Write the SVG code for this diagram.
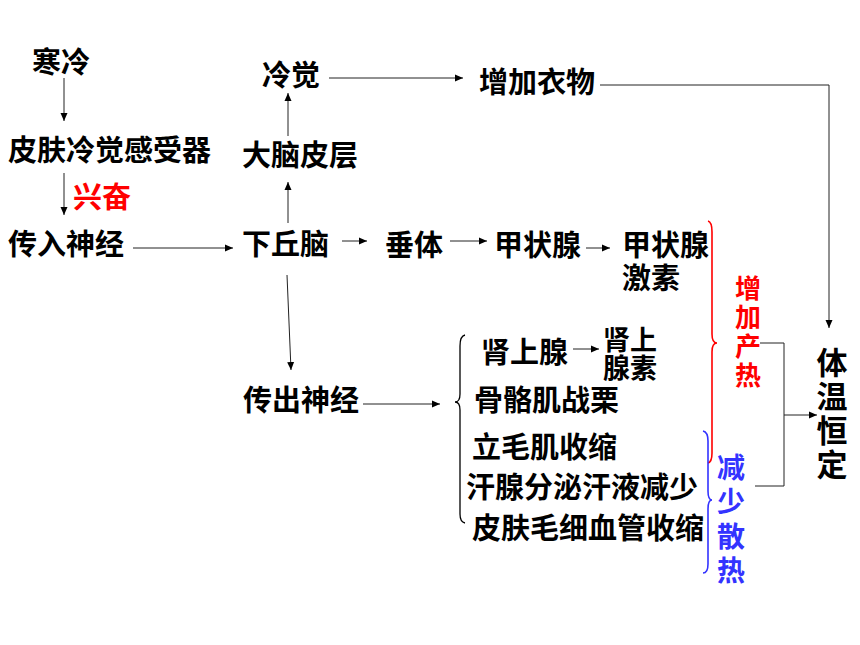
<svg xmlns="http://www.w3.org/2000/svg" width="860" height="645" viewBox="0 0 860 645">
<style>
.t{font-family:"Noto Sans CJK SC","Liberation Sans",sans-serif;font-weight:bold;font-size:29px;fill:#000;dominant-baseline:central}
.v{font-family:"Noto Sans CJK SC","Liberation Sans",sans-serif;font-weight:bold;writing-mode:vertical-rl;text-orientation:upright}
.red{fill:#ff0000;font-size:26px;letter-spacing:3px}
.blue{fill:#3333ff;font-size:28px;letter-spacing:6.5px}
.big{fill:#000;font-size:31px;letter-spacing:3px}
.sm{font-size:27px}
.ln{stroke:#222;stroke-width:1;fill:none}
.arr{marker-end:url(#ah)}
</style>
<defs>
<marker id="ah" markerUnits="userSpaceOnUse" markerWidth="9" markerHeight="8" refX="8" refY="4" orient="auto">
<path d="M0,0.5 L8,4 L0,7.5 Z" fill="#000"/>
</marker>
</defs>
<rect width="860" height="645" fill="#fff"/>
<g id="connectors">
<path class="ln arr" d="M64,78 L64,121"/>
<path class="ln arr" d="M64,173 L64,215"/>
<path class="ln arr" d="M133,248 L233,248"/>
<path class="ln arr" d="M288,223 L288,182"/>
<path class="ln arr" d="M288,136 L288,93"/>
<path class="ln arr" d="M329,78 L463,78"/>
<path class="ln arr" d="M600,85 L829,85 L829,328"/>
<path class="ln arr" d="M342,241 L367,241"/>
<path class="ln arr" d="M450,241 L487,241"/>
<path class="ln arr" d="M586,248 L610,248"/>
<path class="ln arr" d="M287,275 L291,370"/>
<path class="ln arr" d="M363,404 L440,404"/>
<path class="ln arr" d="M573,349 L599,349"/>
<path class="ln" d="M760,343 L784,343 L784,486 L755,486"/>
<path class="ln arr" d="M784,415 L817,415"/>
<path d="M465,335 Q460,336 460,346 L460,394 Q460,402 455,402 Q460,402 460,410 L460,514 Q460,522 465,523" fill="none" stroke="#000" stroke-width="1.3"/>
<path d="M708,221 Q712,222 712,232 L712,334 Q712,343 717,343 Q712,343 712,352 L712,453 Q712,462 708,463" fill="none" stroke="#ff0000" stroke-width="1.6"/>
<path d="M703,431 Q708,432 708,441 L708,491 Q708,500 712,500 Q708,500 708,509 L708,564 Q708,573 703,573" fill="none" stroke="#3333ff" stroke-width="1.6"/>
</g>
<g id="n-hanleng"><text class="t" x="32" y="60">寒冷</text></g>
<g id="n-ganshouqi"><text class="t" x="8" y="148">皮肤冷觉感受器</text></g>
<g id="n-xingfen"><text class="t" style="fill:#ff0000" x="73" y="195">兴奋</text></g>
<g id="n-chuanru"><text class="t" x="8" y="242">传入神经</text></g>
<g id="n-xiaqiunao"><text class="t" x="242" y="242">下丘脑</text></g>
<g id="n-danaopiceng"><text class="t" x="242" y="153">大脑皮层</text></g>
<g id="n-lengjue"><text class="t" x="262" y="73">冷觉</text></g>
<g id="n-yiwu"><text class="t" x="479" y="80">增加衣物</text></g>
<g id="n-chuiti"><text class="t" x="385" y="243">垂体</text></g>
<g id="n-jiazhuangxian"><text class="t" x="494" y="243">甲状腺</text></g>
<g id="n-jisu"><text class="t" x="622" y="243">甲状腺<tspan x="622" y="276">激素</tspan></text></g>
<g id="n-chanre"><text class="v red" x="748" y="275">增加产热</text></g>
<g id="n-shenshangxian"><text class="t" x="481" y="350">肾上腺</text></g>
<g id="n-shenshangxiansu"><text class="t sm" x="603" y="338">肾上<tspan x="603" y="366">腺素</tspan></text></g>
<g id="n-guge"><text class="t" x="474" y="398">骨骼肌战栗</text></g>
<g id="n-chuanchu"><text class="t" x="243" y="398">传出神经</text></g>
<g id="n-limaoji"><text class="t" x="472" y="445">立毛肌收缩</text></g>
<g id="n-hanxian"><text class="t" x="466" y="485">汗腺分泌汗液减少</text></g>
<g id="n-maoxi"><text class="t" x="472" y="526">皮肤毛细血管收缩</text></g>
<g id="n-sanre"><text class="v blue" x="731" y="453">减少散热</text></g>
<g id="n-tiwen"><text class="v big" x="832" y="346.5">体温恒定</text></g>
</svg>
